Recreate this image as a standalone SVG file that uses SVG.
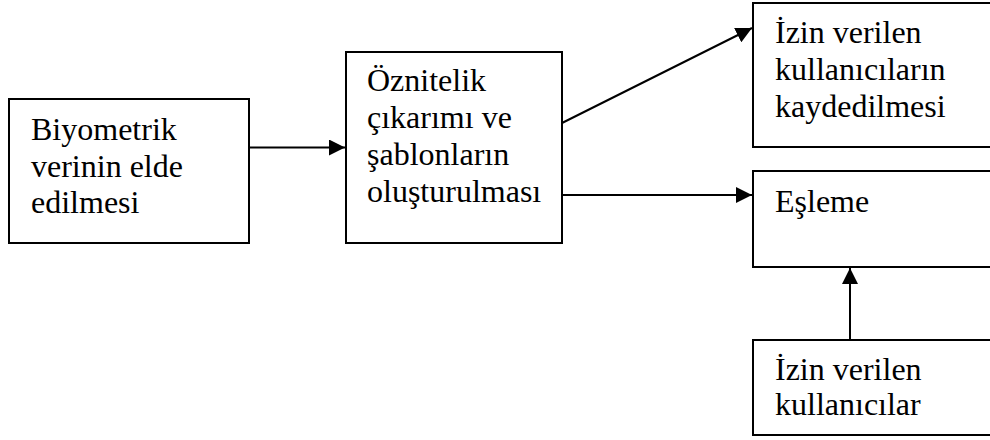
<svg xmlns="http://www.w3.org/2000/svg" width="990" height="440" viewBox="0 0 990 440">
<style>
.box{fill:#fff;stroke:#000;stroke-width:2}
.t{font-family:"Liberation Serif","Times New Roman",serif;font-size:32px;fill:#000}
.c{stroke:#000;stroke-width:2;fill:none}
</style>
<defs>
<marker id="ah" markerUnits="userSpaceOnUse" markerWidth="16" markerHeight="16" viewBox="0 0 16 16" refX="16" refY="8" orient="auto">
<path d="M0,0 L16,8 L0,16 Z" fill="#000"/>
</marker>
</defs>
<rect width="990" height="440" fill="#fff"/>
<g id="n1">
<rect class="box" x="9" y="99" width="240" height="144"/>
<text class="t" x="31" y="140">Biyometrik</text>
<text class="t" x="31" y="177">verinin elde</text>
<text class="t" x="31" y="213">edilmesi</text>
</g>
<g id="n2">
<rect class="box" x="346" y="52" width="216" height="191"/>
<text class="t" x="367" y="91">Öznitelik</text>
<text class="t" x="367" y="128">çıkarımı ve</text>
<text class="t" x="367" y="165">şablonların</text>
<text class="t" x="367" y="202">oluşturulması</text>
</g>
<g id="n3">
<rect class="box" x="753" y="3" width="260" height="144"/>
<text class="t" x="775" y="43">İzin verilen</text>
<text class="t" x="775" y="80">kullanıcıların</text>
<text class="t" x="775" y="117">kaydedilmesi</text>
</g>
<g id="n4">
<rect class="box" x="753" y="171" width="260" height="96"/>
<text class="t" x="775" y="212">Eşleme</text>
</g>
<g id="n5">
<rect class="box" x="753" y="340" width="260" height="95"/>
<text class="t" x="775" y="380">İzin verilen</text>
<text class="t" x="775" y="415">kullanıcılar</text>
</g>
<g id="connectors">
<line class="c" x1="249" y1="147.5" x2="345" y2="147.5" marker-end="url(#ah)"/>
<line class="c" x1="562" y1="123" x2="752" y2="28" marker-end="url(#ah)"/>
<line class="c" x1="562" y1="195" x2="752" y2="195" marker-end="url(#ah)"/>
<line class="c" x1="850" y1="340" x2="850" y2="268" marker-end="url(#ah)"/>
</g>
</svg>
